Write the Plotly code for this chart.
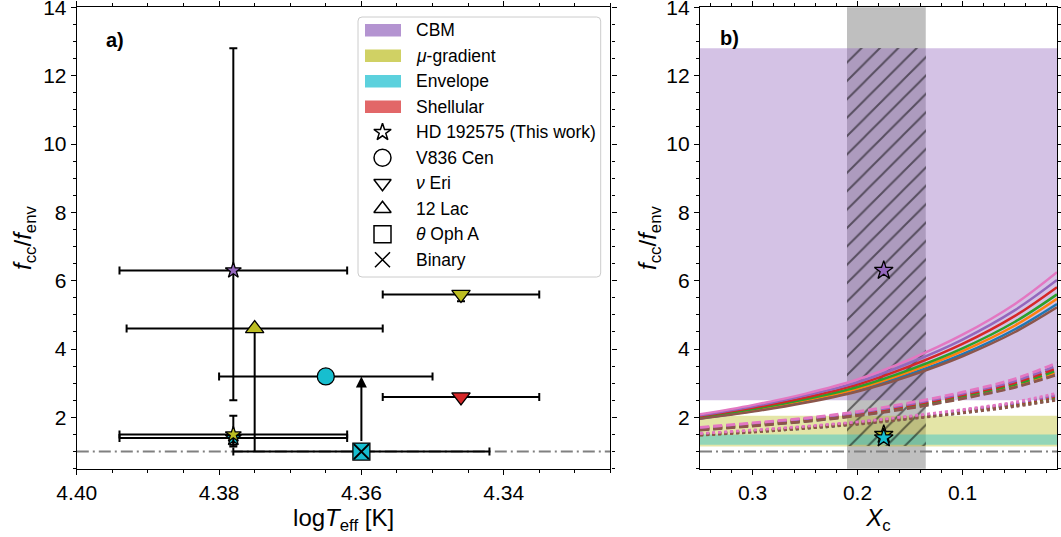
import plotly.graph_objects as go

# ---------------- colours ----------------
C_PURPLE = "#9467bd"
C_OLIVE = "#bcbd22"
C_CYAN = "#17becf"
C_RED = "#d62728"

# ---------------- panel a data ----------------
# HD 192575 (this work): CBM, mu-gradient, envelope
hd_logT = 4.378
hd_logT_err = 0.016
hd_f = [6.3, 1.5, 1.4]
hd_f_lo = [2.5, 1.15, 1.2]
hd_f_hi = [12.8, 2.05, 1.5]
hd_colors = [C_PURPLE, C_OLIVE, C_CYAN]

# V836 Cen (envelope)
v836_logT, v836_logT_err, v836_f = 4.365, 0.015, 3.2
# nu Eri (mu-gradient, shellular)
nueri_logT, nueri_logT_err = 4.346, 0.011
nueri_f = [5.6, 2.6]
nueri_f_err_lo = [0.2, 0.0]
nueri_f_err_hi = [0.1, 0.0]
nueri_colors = [C_OLIVE, C_RED]
# 12 Lac (mu-gradient)
lac_logT, lac_logT_err, lac_f, lac_f_lo = 4.375, 0.018, 4.6, 1.0
# theta Oph A (envelope, binary, lower limit)
oph_logT, oph_logT_err, oph_f, oph_f_limit = 4.360, 0.018, 1.0, 3.2

ref_ratio = 1.0

# ---------------- panel b data ----------------
hd_xc = 0.175
hd_xc_range = [0.135, 0.21]
xc_grid = [0.35, 0.30, 0.25, 0.20, 0.15, 0.10, 0.05, 0.01]
model_colors = ["#1f77b4", "#ff7f0e", "#2ca02c", "#d62728", "#9467bd", "#8c564b", "#e377c2"]
solid_f = [
    [1.97, 2.19, 2.46, 2.80, 3.27, 3.85, 4.58, 5.32],
    [1.99, 2.22, 2.50, 2.84, 3.34, 3.94, 4.69, 5.47],
    [2.01, 2.24, 2.53, 2.89, 3.40, 4.02, 4.80, 5.60],
    [2.04, 2.28, 2.58, 2.96, 3.50, 4.15, 4.97, 5.81],
    [2.06, 2.32, 2.64, 3.03, 3.60, 4.28, 5.14, 6.02],
    [1.96, 2.17, 2.43, 2.76, 3.22, 3.79, 4.50, 5.22],
    [2.09, 2.36, 2.69, 3.11, 3.70, 4.42, 5.32, 6.25],
]
dashed_f = [
    [1.64, 1.76, 1.89, 2.06, 2.29, 2.57, 2.90, 3.29],
    [1.65, 1.77, 1.91, 2.07, 2.31, 2.60, 2.94, 3.33],
    [1.66, 1.78, 1.92, 2.09, 2.33, 2.62, 2.97, 3.38],
    [1.68, 1.80, 1.94, 2.11, 2.36, 2.66, 3.02, 3.45],
    [1.69, 1.82, 1.96, 2.14, 2.39, 2.70, 3.07, 3.52],
    [1.63, 1.75, 1.88, 2.05, 2.27, 2.55, 2.88, 3.25],
    [1.71, 1.84, 1.98, 2.17, 2.43, 2.74, 3.13, 3.60],
]
dotted_f = [
    [1.49, 1.58, 1.68, 1.81, 1.97, 2.14, 2.34, 2.53],
    [1.49, 1.58, 1.69, 1.82, 1.98, 2.16, 2.35, 2.55],
    [1.50, 1.59, 1.70, 1.83, 1.99, 2.17, 2.37, 2.58],
    [1.51, 1.60, 1.71, 1.84, 2.01, 2.19, 2.40, 2.62],
    [1.52, 1.61, 1.72, 1.86, 2.02, 2.21, 2.42, 2.66],
    [1.48, 1.57, 1.68, 1.80, 1.96, 2.13, 2.32, 2.51],
    [1.53, 1.63, 1.74, 1.87, 2.04, 2.23, 2.45, 2.71],
]

legend_patch_labels = ["CBM", "<i>μ</i>-gradient", "Envelope", "Shellular"]
legend_patch_colors = ["rgba(148,103,189,0.7)", "rgba(188,189,34,0.7)",
                       "rgba(23,190,207,0.7)", "rgba(214,39,40,0.7)"]
legend_marker_labels = ["HD 192575 (This work)", "V836 Cen", "<i>ν</i> Eri",
                        "12 Lac", "<i>θ</i> Oph A", "Binary"]
legend_marker_symbols = ["star-open", "circle-open", "triangle-down-open",
                         "triangle-up-open", "square-open", "x-thin-open"]
legend_marker_sizes = [13, 17, 15, 15, 17, 15]

FONT = "Liberation Sans, Arial, sans-serif"

fig = go.Figure()

EB = dict(type="data", color="black", thickness=2, width=4)
EDGE = dict(color="black", width=1.3)


def err(arr, minus=None, width=4):
    d = dict(EB)
    d["array"] = arr
    d["width"] = width
    if minus is not None:
        d["arrayminus"] = minus
        d["symmetric"] = False
    return d


# ---------------- panel a traces ----------------
# HD 192575: CBM, envelope, then mu-gradient on top
for i in [0, 2, 1]:
    fig.add_trace(go.Scatter(
        x=[hd_logT], y=[hd_f[i]], mode="markers", xaxis="x", yaxis="y",
        error_x=err([hd_logT_err]),
        error_y=err([hd_f_hi[i] - hd_f[i]], [hd_f[i] - hd_f_lo[i]]),
        marker=dict(symbol="star", size=12, color=hd_colors[i], line=EDGE),
        hoverinfo="skip"))

# 12 Lac
fig.add_trace(go.Scatter(
    x=[lac_logT], y=[lac_f], mode="markers", xaxis="x", yaxis="y",
    error_x=err([lac_logT_err]),
    error_y=err([0], [lac_f - lac_f_lo], width=0),
    marker=dict(symbol="triangle-up", size=16, color=C_OLIVE, line=EDGE),
    hoverinfo="skip"))

# V836 Cen
fig.add_trace(go.Scatter(
    x=[v836_logT], y=[v836_f], mode="markers", xaxis="x", yaxis="y",
    error_x=err([v836_logT_err]),
    marker=dict(symbol="circle", size=17, color=C_CYAN, line=EDGE),
    hoverinfo="skip"))

# nu Eri
for i in range(2):
    fig.add_trace(go.Scatter(
        x=[nueri_logT], y=[nueri_f[i]], mode="markers", xaxis="x", yaxis="y",
        error_x=err([nueri_logT_err]),
        error_y=err([nueri_f_err_hi[i]], [nueri_f_err_lo[i]]),
        marker=dict(symbol="triangle-down", size=16, color=nueri_colors[i], line=EDGE),
        hoverinfo="skip"))

# theta Oph A
fig.add_trace(go.Scatter(
    x=[oph_logT], y=[oph_f], mode="markers", xaxis="x", yaxis="y",
    error_x=err([oph_logT_err]),
    marker=dict(symbol="square", size=17, color=C_CYAN, line=EDGE),
    hoverinfo="skip"))
fig.add_trace(go.Scatter(
    x=[oph_logT], y=[oph_f], mode="markers", xaxis="x", yaxis="y",
    marker=dict(symbol="x-thin-open", size=15, color="black", line=dict(color="black", width=2)),
    hoverinfo="skip"))

fig.add_annotation(
    x=oph_logT, y=oph_f_limit, ax=oph_logT, ay=oph_f, xref="x", yref="y",
    axref="x", ayref="y", text="", showarrow=True, arrowhead=2, arrowsize=1.1,
    arrowwidth=2, arrowcolor="black", startstandoff=9)

# ---------------- panel b traces ----------------
# hatched Xc range of HD 192575 (bar with hatch pattern)
fig.add_trace(go.Bar(
    x=[(hd_xc_range[0] + hd_xc_range[1]) / 2],
    width=[hd_xc_range[1] - hd_xc_range[0]],
    base=[min(hd_f_lo)], y=[max(hd_f_hi) - min(hd_f_lo)],
    xaxis="x2", yaxis="y2",
    marker=dict(color="rgba(0,0,0,0)", line=dict(width=0),
                pattern=dict(shape="/", fgcolor="black", bgcolor="rgba(0,0,0,0)",
                             size=13, solidity=0.15, fillmode="overlay")),
    hoverinfo="skip"))

for rows, dash, lw in [(solid_f, "solid", 2.5), (dashed_f, "9px,4px", 2.8), (dotted_f, "dot", 2.8)]:
    for k, yv in enumerate(rows):
        fig.add_trace(go.Scatter(
            x=xc_grid, y=yv, mode="lines", xaxis="x2", yaxis="y2",
            line=dict(color=model_colors[k], width=lw, dash=dash, shape="spline", smoothing=1.0),
            hoverinfo="skip"))

for i in [0, 1, 2]:
    fig.add_trace(go.Scatter(
        x=[hd_xc], y=[hd_f[i]], mode="markers", xaxis="x2", yaxis="y2",
        marker=dict(symbol="star", size=14, color=hd_colors[i], line=EDGE),
        hoverinfo="skip"))

# ---------------- shapes ----------------
shapes = []
# panel b: vertical gray span (full height)
shapes.append(dict(type="rect", xref="x2", yref="y2 domain", x0=hd_xc_range[0], x1=hd_xc_range[1],
                   y0=0, y1=1, fillcolor="rgba(128,128,128,0.5)", line=dict(width=0), layer="below"))
# panel b horizontal bands
band_colors = ["rgba(148,103,189,0.4)", "rgba(188,189,34,0.4)", "rgba(23,190,207,0.4)"]
for i in range(3):
    shapes.append(dict(type="rect", xref="x2 domain", yref="y2", x0=0, x1=1,
                       y0=hd_f_lo[i], y1=hd_f_hi[i], fillcolor=band_colors[i],
                       line=dict(width=0), layer="below"))
# reference f_cc/f_env = 1 line in both panels
for xr, yr in [("x domain", "y"), ("x2 domain", "y2")]:
    shapes.append(dict(type="line", xref=xr, yref=yr, x0=0, x1=1, y0=ref_ratio, y1=ref_ratio,
                       line=dict(color="#808080", width=2, dash="12px,4px,2px,4px"), layer="below"))

# ---------------- manual legend (panel a) ----------------
AX0, AW = 76.8, 533.6
AYB, AH = 468.7, 461.4


def dx(px):
    return (px - AX0) / AW


def dy(py):
    return (AYB - py) / AH


bx0, bx1, by0, by1 = dx(358), dx(600.7), dy(277), dy(17)
rx, ry = 4 / AW, 4 / AH
path = (f"M{bx0+rx},{by0} L{bx1-rx},{by0} Q{bx1},{by0} {bx1},{by0+ry} "
        f"L{bx1},{by1-ry} Q{bx1},{by1} {bx1-rx},{by1} L{bx0+rx},{by1} "
        f"Q{bx0},{by1} {bx0},{by1-ry} L{bx0},{by0+ry} Q{bx0},{by0} {bx0+rx},{by0} Z")
shapes.append(dict(type="path", xref="x domain", yref="y domain", path=path,
                   fillcolor="rgba(255,255,255,0.8)", line=dict(color="#cccccc", width=1), layer="below"))

annotations = []
row_y = [30.3 + 25.5 * i for i in range(10)]
for i, (lab, col) in enumerate(zip(legend_patch_labels, legend_patch_colors)):
    shapes.append(dict(type="rect", xref="x domain", yref="y domain", x0=dx(365), x1=dx(401),
                       y0=dy(row_y[i] + 6.3), y1=dy(row_y[i] - 6.3), fillcolor=col,
                       line=dict(width=0), layer="below"))
    annotations.append(dict(xref="x domain", yref="y domain", x=dx(414), y=dy(row_y[i]),
                            text=lab, showarrow=False, xanchor="left", yanchor="middle",
                            font=dict(size=17.5, family=FONT, color="black")))

# legend keys for the marker shapes (drawn on a hidden overlay axis spanning panel a)
key_rows = [dy(row_y[4 + j]) for j in range(len(legend_marker_labels))]
for j, sym in enumerate(legend_marker_symbols):
    fig.add_trace(go.Scatter(
        x=[dx(382.5)], y=[key_rows[j]], mode="markers", xaxis="x3", yaxis="y3",
        marker=dict(symbol=sym, size=legend_marker_sizes[j], color="black",
                    line=dict(color="black", width=1.5)),
        hoverinfo="skip"))
for j, lab in enumerate(legend_marker_labels):
    annotations.append(dict(xref="x domain", yref="y domain", x=dx(414), y=key_rows[j],
                            text=lab, showarrow=False, xanchor="left", yanchor="middle",
                            font=dict(size=17.5, family=FONT, color="black")))

# panel labels
annotations.append(dict(xref="x domain", yref="y domain", x=dx(104), y=dy(40), text="<b>a)</b>",
                        showarrow=False, xanchor="left", yanchor="middle",
                        font=dict(size=20, family=FONT, color="black")))
annotations.append(dict(xref="x2 domain", yref="y2 domain", x=(718 - 700) / 357, y=dy(38), text="<b>b)</b>",
                        showarrow=False, xanchor="left", yanchor="middle",
                        font=dict(size=20, family=FONT, color="black")))

for a in annotations:
    fig.add_annotation(**a)

# ---------------- layout ----------------
W, H = 1061, 537
xdom_a = [76.8 / W, 610.4 / W]
ydom = [(H - 468.7) / H, (H - 7.3) / H]
common = dict(showline=True, linecolor="black", linewidth=1.2, mirror="allticks",
              ticks="outside", ticklen=5, tickwidth=1.2, tickcolor="black",
              showgrid=False, zeroline=False, automargin=False, ticklabeloverflow="allow",
              tickfont=dict(size=21, family=FONT, color="black"))
ytitle = "<i>f</i><sub>cc</sub>/<i>f</i><sub>env</sub>"

fig.update_layout(
    width=W, height=H, margin=dict(l=0, r=0, t=0, b=0),
    paper_bgcolor="white", plot_bgcolor="white", showlegend=False,
    font=dict(family=FONT, size=21, color="black"),
    shapes=shapes,
    xaxis=dict(domain=xdom_a, range=[4.40, 4.325], anchor="y",
               tick0=4.4, dtick=0.02, tickformat=".2f",
               minor=dict(ticks="outside", ticklen=3, tickwidth=1, tickcolor="black", dtick=0.005, tick0=4.4),
               title=dict(text="log<i>T</i><sub>eff</sub> [K]", font=dict(size=24, family=FONT), standoff=6),
               **common),
    yaxis=dict(domain=ydom, range=[0.5, 14.0001], anchor="x", tick0=0, dtick=2,
               minor=dict(ticks="outside", ticklen=3, tickwidth=1, tickcolor="black", dtick=0.5, tick0=0),
               title=dict(text=ytitle, font=dict(size=24, family=FONT), standoff=4),
               **common),
    xaxis2=dict(domain=[700 / W, 1057 / W], range=[0.35, 0.01], anchor="y2",
                tick0=0, dtick=0.1, tickformat=".1f",
                minor=dict(ticks="outside", ticklen=3, tickwidth=1, tickcolor="black", dtick=0.02, tick0=0),
                title=dict(text="<i>X</i><sub>c</sub>", font=dict(size=24, family=FONT), standoff=6),
                **common),
    yaxis2=dict(domain=ydom, range=[0.5, 14.0001], anchor="x2", tick0=0, dtick=2,
                minor=dict(ticks="outside", ticklen=3, tickwidth=1, tickcolor="black", dtick=0.5, tick0=0),
                title=dict(text=ytitle, font=dict(size=24, family=FONT), standoff=2),
                **common),
    xaxis3=dict(overlaying="x", anchor="y3", range=[0, 1], visible=False, fixedrange=True),
    yaxis3=dict(overlaying="y", anchor="x3", range=[0, 1], visible=False, fixedrange=True),
    bargap=0,
)

fig.write_html("out.html")
